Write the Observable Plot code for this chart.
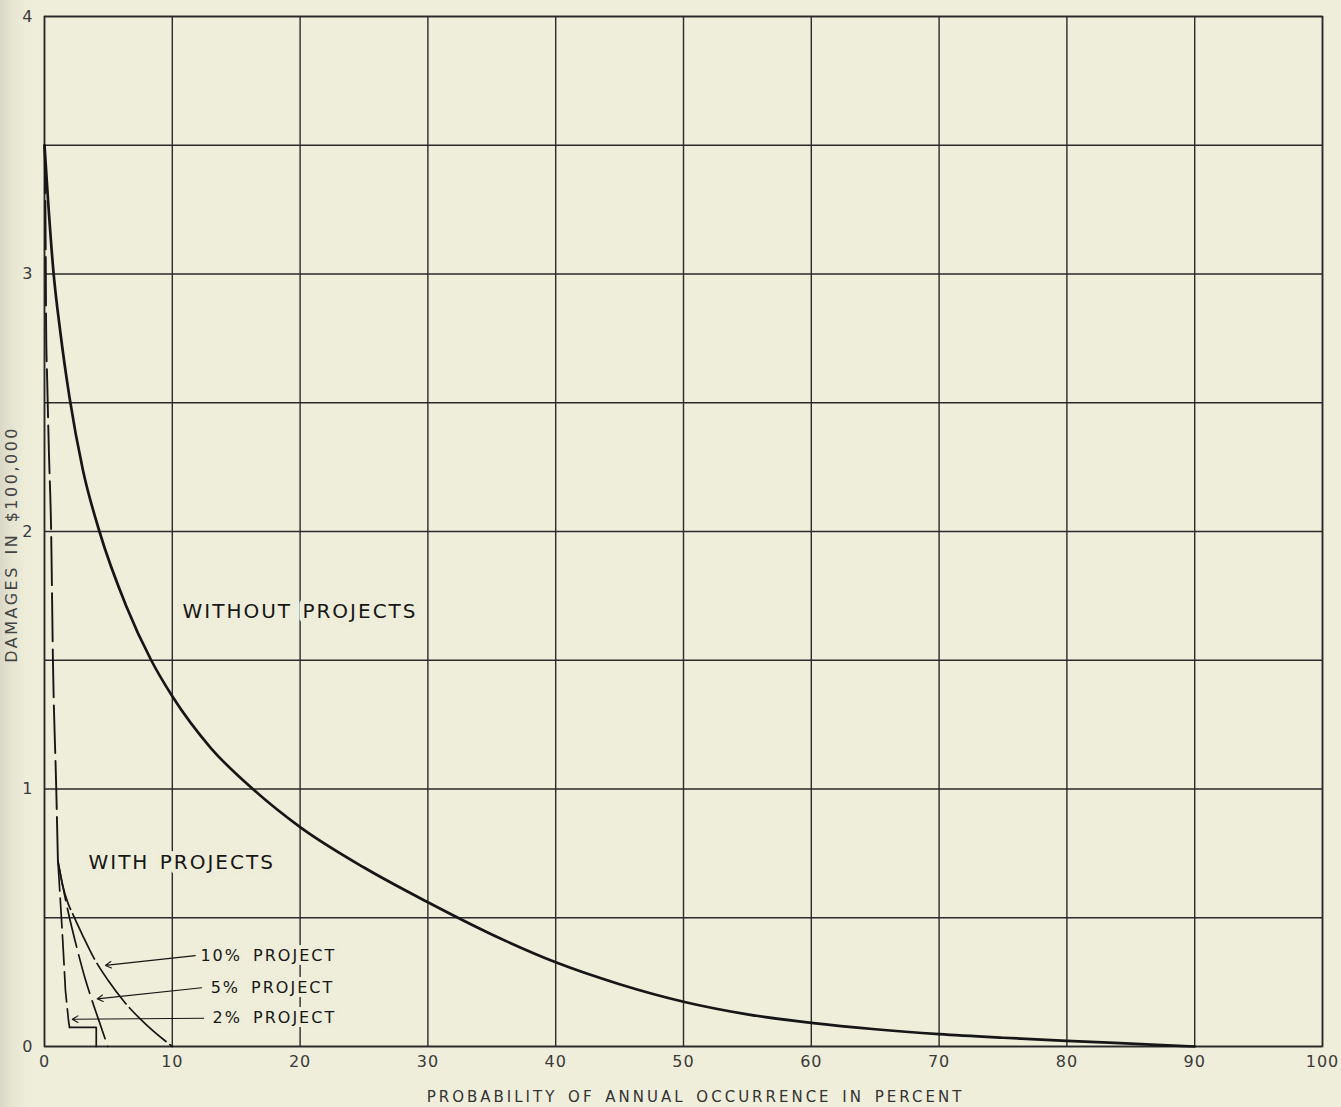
<!DOCTYPE html>
<html>
<head>
<meta charset="utf-8">
<script src="https://cdn.jsdelivr.net/npm/d3@7"></script>
<script src="https://cdn.jsdelivr.net/npm/@observablehq/plot@0.6"></script>
<style>
  html, body { margin: 0; padding: 0; }
  body { width: 1341px; height: 1107px; overflow: hidden;
         background: linear-gradient(to right, #d9d8c8 0px, #e6e5d2 12px, #eeedd9 26px, #efeedb 60px); }
  #chart svg { display: block; background: transparent; }
  g[aria-description="xtitle"] text { letter-spacing: 3px; word-spacing: 3px; }
  g[aria-description="ytitle"] text { letter-spacing: 2.5px; word-spacing: 3px; }
  g[aria-description="biglabels"] text { letter-spacing: 2px; word-spacing: 2px; }
  g[aria-description="projlabels"] text { letter-spacing: 2px; word-spacing: 4px; }
</style>
</head>
<body>
<div id="chart"></div>
<script>
// ---- data ----
const xGrid = [0, 10, 20, 30, 40, 50, 60, 70, 80, 90, 100];
const yGrid = [0, 0.5, 1, 1.5, 2, 2.5, 3, 3.5, 4];
const yTickLabels = [0, 1, 2, 3, 4];

// Without projects (probability %, damages in $100,000)
const withoutX = [0, 0.3, 0.68, 1.25, 1.96, 3.0, 4.3, 6.4, 8.35, 10, 13, 16.3, 20, 25, 30, 35, 40, 45, 50, 55, 60, 65, 70, 75, 80, 85, 90];
const withoutY = [3.5, 3.27, 3.02, 2.77, 2.52, 2.24, 2.0, 1.71, 1.5, 1.36, 1.16, 1.0, 0.852, 0.695, 0.56, 0.435, 0.327, 0.242, 0.174, 0.125, 0.092, 0.067, 0.048, 0.034, 0.022, 0.011, 0];

// With projects, common upper branch
const withX = [0, 0.08, 0.13, 0.21, 0.35, 0.52, 0.66, 0.92, 1.05];
const withY = [3.5, 3.2, 2.78, 2.59, 2.3, 2.0, 1.5, 1.0, 0.72];

// 10% project
const p10X = [1.05, 1.4, 1.85, 2.2, 3.0, 3.85, 5.0, 6.3, 8.0, 10];
const p10Y = [0.72, 0.63, 0.555, 0.516, 0.43, 0.345, 0.255, 0.17, 0.083, 0];

// 5% project
const p5X = [1.05, 1.4, 1.82, 2.6, 3.2, 3.8, 4.4, 4.95];
const p5Y = [0.72, 0.63, 0.53, 0.37, 0.26, 0.167, 0.08, 0];

// 2% project
const p2X = [1.05, 1.2, 1.43, 1.64, 1.88, 1.96];
const p2Y = [0.72, 0.6, 0.41, 0.217, 0.1, 0.074];
const p2StepX = [1.96, 4.05, 4.05];
const p2StepY = [0.074, 0.074, 0];

// labels
const bigLabelText = ["WITHOUT PROJECTS", "WITH PROJECTS"];
const bigLabelX = [10.8, 3.44];
const bigLabelY = [1.69, 0.715];

const projLabelText = ["10% PROJECT", "5% PROJECT", "2% PROJECT"];
const projLabelX = [12.2, 13.0, 13.15];
const projLabelY = [0.353, 0.229, 0.113];

const arrowX1 = [11.8, 12.3, 12.45];
const arrowY1 = [0.353, 0.228, 0.11];
const arrowX2 = [4.77, 4.12, 2.17];
const arrowY2 = [0.315, 0.185, 0.106];

const xTitle = "PROBABILITY OF ANNUAL OCCURRENCE IN PERCENT";
const yTitle = "DAMAGES IN $100,000";
const yTitleAt = 1.95;

// ---- build tables ----
const pts = (xs, ys) => xs.map((x, i) => ({x, y: ys[i]}));
const bigLabels = bigLabelText.map((t, i) => ({t, x: bigLabelX[i], y: bigLabelY[i]}));
const projLabels = projLabelText.map((t, i) => ({t, x: projLabelX[i], y: projLabelY[i]}));
const arrows = arrowX1.map((x1, i) => ({x1, y1: arrowY1[i], x2: arrowX2[i], y2: arrowY2[i]}));

const bg = "#eeedd9";
const ink = "#161616";
const font = "DejaVu Sans, sans-serif";

const chart = Plot.plot({
  width: 1341,
  height: 1107,
  marginLeft: 44,
  marginRight: 19,
  marginTop: 16,
  marginBottom: 61,
  style: {background: "transparent", fontFamily: font, color: "#2a2a2a", letterSpacing: "1px"},
  x: {domain: [0, 100]},
  y: {domain: [0, 4]},
  marks: [
    Plot.gridX(xGrid, {stroke: "#2a2a2a", strokeOpacity: 1, strokeWidth: 1.4}),
    Plot.gridY(yGrid, {stroke: "#2a2a2a", strokeOpacity: 1, strokeWidth: 1.4}),
    Plot.frame({stroke: "#2a2a2a", strokeWidth: 1.6}),
    Plot.axisX({ticks: xGrid, tickSize: 0, tickPadding: 9, fontSize: 16, label: null, fill: "#3a3a3a", tickFormat: d => String(d)}),
    Plot.axisY({ticks: yTickLabels, tickSize: 0, tickPadding: 11, fontSize: 16, label: null, fill: "#3a3a3a", tickFormat: d => String(d)}),
    Plot.text(bigLabels, {x: "x", y: "y", text: "t", textAnchor: "start", fontSize: 20, fill: ink,
      stroke: bg, strokeWidth: 10, ariaDescription: "biglabels"}),
    Plot.text(projLabels, {x: "x", y: "y", text: "t", textAnchor: "start", fontSize: 16, fill: ink,
      stroke: bg, strokeWidth: 8, ariaDescription: "projlabels"}),
    Plot.line(pts(withoutX, withoutY), {x: "x", y: "y", curve: "monotone-x", stroke: ink, strokeWidth: 2.7}),
    Plot.line(pts(withX, withY), {x: "x", y: "y", curve: "monotone-x", stroke: ink, strokeWidth: 1.9, strokeDasharray: "48,8"}),
    Plot.line(pts(p10X, p10Y), {x: "x", y: "y", curve: "monotone-x", stroke: ink, strokeWidth: 1.7, strokeDasharray: "50,5"}),
    Plot.line(pts(p5X, p5Y), {x: "x", y: "y", curve: "monotone-x", stroke: ink, strokeWidth: 1.7, strokeDasharray: "40,8"}),
    Plot.line(pts(p2X, p2Y), {x: "x", y: "y", curve: "linear", stroke: ink, strokeWidth: 1.7, strokeDasharray: "30,7"}),
    Plot.line(pts(p2StepX, p2StepY), {x: "x", y: "y", curve: "linear", stroke: ink, strokeWidth: 1.7}),
    Plot.arrow(arrows, {x1: "x1", y1: "y1", x2: "x2", y2: "y2", stroke: ink, strokeWidth: 1.1, headLength: 9, bend: 0}),
    Plot.text([xTitle], {frameAnchor: "bottom", textAnchor: "middle", dx: 12, dy: 55, fontSize: 15, fill: "#333", ariaDescription: "xtitle"}),
    Plot.text([yTitle], {y: () => yTitleAt, frameAnchor: "left", textAnchor: "middle", dx: -33, rotate: -90, fontSize: 16, fill: "#444", ariaDescription: "ytitle"})
  ]
});
document.getElementById("chart").appendChild(chart);
</script>
</body>
</html>
